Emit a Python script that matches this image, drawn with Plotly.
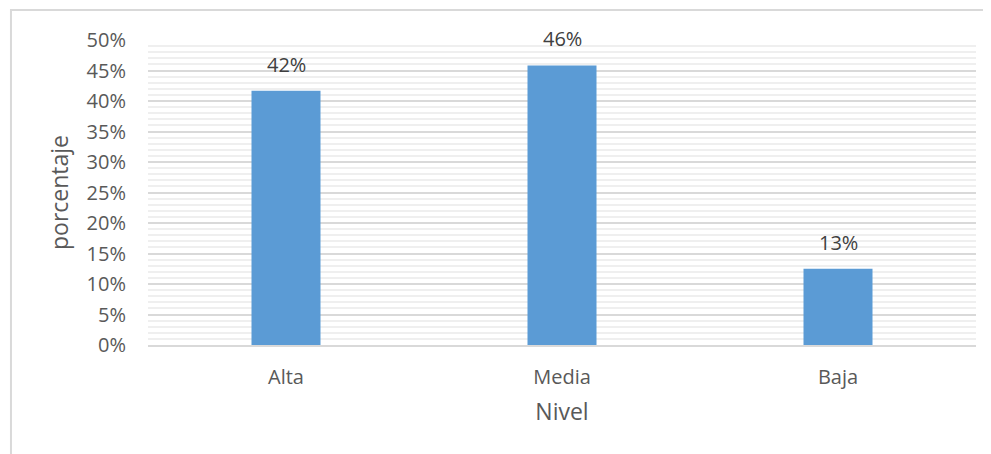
import plotly.graph_objects as go

categories = ["Alta", "Media", "Baja"]
values = [0.4167, 0.4583, 0.125]
labels = ["42%", "46%", "13%"]
tick_vals = [0, 0.05, 0.10, 0.15, 0.20, 0.25, 0.30, 0.35, 0.40, 0.45, 0.50]
tick_text = ["0%", "5%", "10%", "15%", "20%", "25%", "30%", "35%", "40%", "45%", "50%"]

FONT = "Open Sans"
fig = go.Figure(go.Bar(
    x=categories, y=values,
    marker=dict(color="#5b9bd5", line=dict(width=0)),
    width=0.25,
))

for c, v, t in zip(categories, values, labels):
    fig.add_annotation(x=c, y=v, text=t, showarrow=False, yanchor="bottom",
                       yshift=11, font=dict(family=FONT, size=20, color="#404040"))

fig.update_layout(
    width=983, height=446,
    margin=dict(l=140, r=15, t=32, b=109),
    paper_bgcolor="white", plot_bgcolor="white",
    showlegend=False,
    font=dict(family=FONT, size=20, color="#595959"),
    xaxis=dict(
        title=dict(text="Nivel", font=dict(size=23, color="#595959"), standoff=15),
        showgrid=False, showline=True, linecolor="#d9d9d9", linewidth=1.5,
        ticks="", tickfont=dict(size=20, color="#595959"), ticklabelstandoff=13,
    ),
    yaxis=dict(
        title=dict(text="porcentaje", font=dict(size=23, color="#595959"), standoff=11),
        range=[0, 0.5], tickvals=tick_vals, ticktext=tick_text,
        showgrid=True, gridcolor="#d9d9d9", gridwidth=1.5,
        minor=dict(dtick=0.01, showgrid=True, gridcolor="#efefef", gridwidth=2),
        zeroline=False, ticks="", tickfont=dict(size=20, color="#595959"),
        ticklabelstandoff=21,
    ),
)

fig.add_shape(type="rect", xref="paper", yref="paper",
              x0=-0.1655, x1=1.02, y0=-0.5, y1=1.098,
              line=dict(color="#d9d9d9", width=2), layer="below")

fig.write_html("out.html")
